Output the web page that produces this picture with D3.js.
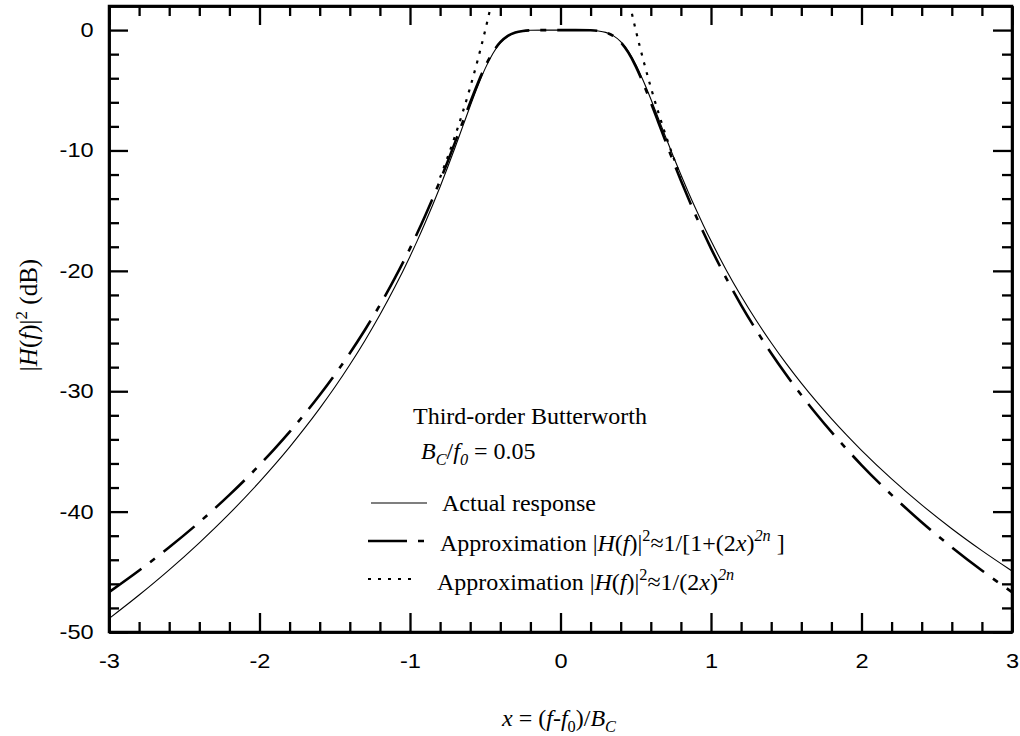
<!DOCTYPE html>
<html>
<head>
<meta charset="utf-8">
<script src="https://cdn.jsdelivr.net/npm/d3@7"></script>
<style>
  html, body { margin: 0; padding: 0; background: #fff; }
  svg { display: block; }
  .tick text { font-family: "Liberation Sans", Arial, sans-serif; font-size: 20px; fill: #000; }
  .serif { font-family: "Liberation Serif", "Times New Roman", serif; fill: #000; }
</style>
</head>
<body>
<svg id="chart" width="1020" height="736"></svg>
<script>
// ---- data ----
const xGrid = [-3, -2.8, -2.6, -2.4, -2.2, -2.0, -1.9, -1.8, -1.7, -1.6, -1.5, -1.4, -1.3, -1.2, -1.1, -1.0,
  -0.95, -0.9, -0.85, -0.8, -0.75, -0.7, -0.65, -0.6, -0.55, -0.5, -0.45, -0.4, -0.35, -0.3, -0.25, -0.2, -0.1, 0,
  0.1, 0.2, 0.25, 0.3, 0.35, 0.4, 0.45, 0.5, 0.55, 0.6, 0.65, 0.7, 0.75, 0.8, 0.85, 0.9, 0.95, 1.0,
  1.1, 1.2, 1.3, 1.4, 1.5, 1.6, 1.7, 1.8, 1.9, 2.0, 2.2, 2.4, 2.6, 2.8, 3.0];

const actualDb = [-48.89, -46.93, -44.84, -42.59, -40.17, -37.53, -36.12, -34.64, -33.07, -31.42, -29.67, -27.80, -25.80, -23.65, -21.33, -18.80,
  -17.45, -16.03, -14.55, -13.01, -11.40, -9.73, -8.02, -6.31, -4.67, -3.18, -1.96, -1.07, -0.51, -0.21, -0.07, -0.02, 0.00, 0.00,
  0.00, -0.02, -0.07, -0.19, -0.46, -0.96, -1.75, -2.85, -4.21, -5.72, -7.32, -8.92, -10.50, -12.02, -13.49, -14.89, -16.23, -17.51,
  -19.90, -22.09, -24.11, -25.97, -27.71, -29.33, -30.85, -32.28, -33.63, -34.91, -37.28, -39.44, -41.42, -43.24, -44.93];

const approxDb = [-46.69, -44.89, -42.96, -40.88, -38.61, -36.13, -34.79, -33.38, -31.89, -30.31, -28.63, -26.84, -24.91, -22.84, -20.58, -18.13,
  -16.82, -15.44, -14.00, -12.50, -10.93, -9.31, -7.65, -6.01, -4.43, -3.01, -1.85, -1.01, -0.48, -0.20, -0.07, -0.02, 0.00, 0.00,
  0.00, -0.02, -0.07, -0.20, -0.48, -1.01, -1.85, -3.01, -4.43, -6.01, -7.65, -9.31, -10.93, -12.50, -14.00, -15.44, -16.82, -18.13,
  -20.58, -22.84, -24.91, -26.84, -28.63, -30.31, -31.89, -33.38, -34.79, -36.13, -38.61, -40.88, -42.96, -44.89, -46.69];

const asympLeftX  = [-0.46, -0.47, -0.5, -0.55, -0.6, -0.7, -0.8];
const asympRightX = [0.46, 0.47, 0.5, 0.55, 0.6, 0.7, 0.8];
const asympDb     = [2.17, 1.61, 0.00, -2.48, -4.75, -8.77, -12.25];

const xMajorTicks = [-3, -2, -1, 0, 1, 2, 3];
const xMinorTicks = [-2.8,-2.6,-2.4,-2.2,-1.8,-1.6,-1.4,-1.2,-0.8,-0.6,-0.4,-0.2,0.2,0.4,0.6,0.8,1.2,1.4,1.6,1.8,2.2,2.4,2.6,2.8];
const yMajorTicks = [-50, -40, -30, -20, -10, 0];
const yMinorTicks = [-48,-46,-44,-42,-38,-36,-34,-32,-28,-26,-24,-22,-18,-16,-14,-12,-8,-6,-4,-2];

// ---- layout ----
const L = 109, R = 1012, T = 6, B = 632;
const svg = d3.select("#chart");
const x = d3.scaleLinear().domain([-3, 3]).range([L, R]);
const y = d3.scaleLinear().domain([-50, 2]).range([B, T]);

const defs = svg.append("defs");
defs.append("clipPath").attr("id", "clip").append("rect")
  .attr("x", L).attr("y", T).attr("width", R - L).attr("height", B - T);

// ---- curves ----
const g = svg.append("g").attr("clip-path", "url(#clip)");
const line = d3.line().x(d => x(d[0])).y(d => y(d[1])).curve(d3.curveMonotoneX);
const actualPts = xGrid.map((v, i) => [v, actualDb[i]]);
const approxPts = xGrid.map((v, i) => [v, approxDb[i]]);
const leftPts = asympLeftX.map((v, i) => [v, asympDb[i]]).reverse();
const rightPts = asympRightX.map((v, i) => [v, asympDb[i]]);

g.append("path").attr("d", line(actualPts)).attr("fill", "none").attr("stroke", "#000").attr("stroke-width", 1.1);
g.append("path").attr("d", line(approxPts)).attr("fill", "none").attr("stroke", "#000").attr("stroke-width", 2.6)
  .attr("stroke-dasharray", "40,11,6,11");
[leftPts, rightPts].forEach(p => {
  g.append("path").attr("d", line(p)).attr("fill", "none").attr("stroke", "#000").attr("stroke-width", 2.2)
    .attr("stroke-dasharray", "3,7");
});

// ---- axes (ticks inward) ----
function styleAxis(sel) {
  sel.selectAll("path.domain").attr("stroke", "#000").attr("stroke-width", 2.5);
  sel.selectAll(".tick line").attr("stroke", "#000").attr("stroke-width", 2.3);
}
const ax = (gen, tx, ty) => svg.append("g").attr("transform", `translate(${tx},${ty})`).call(gen).call(styleAxis);
const fmt = d => String(d);

const xAxisG = ax(d3.axisBottom(x).tickValues(xMajorTicks).tickSize(-19).tickSizeOuter(0).tickPadding(22).tickFormat(fmt), 0, B);
ax(d3.axisBottom(x).tickValues(xMinorTicks).tickSize(-10).tickSizeOuter(0).tickFormat(""), 0, B);
ax(d3.axisTop(x).tickValues(xMajorTicks).tickSize(-19).tickSizeOuter(0).tickFormat(""), 0, T);
ax(d3.axisTop(x).tickValues(xMinorTicks).tickSize(-10).tickSizeOuter(0).tickFormat(""), 0, T);
const yAxisG = ax(d3.axisLeft(y).tickValues(yMajorTicks).tickSize(-19).tickSizeOuter(0).tickPadding(13).tickFormat(fmt), L, 0);
ax(d3.axisLeft(y).tickValues(yMinorTicks).tickSize(-10).tickSizeOuter(0).tickFormat(""), L, 0);
ax(d3.axisRight(y).tickValues(yMajorTicks).tickSize(-19).tickSizeOuter(0).tickFormat(""), R, 0);
ax(d3.axisRight(y).tickValues(yMinorTicks).tickSize(-10).tickSizeOuter(0).tickFormat(""), R, 0);
svg.selectAll(".tick text").attr("fill", "#000").attr("transform", "scale(1.18,1)");
xAxisG.selectAll(".tick text").attr("transform", null).attr("textLength", null)
  .each(function () { d3.select(this).attr("transform", "scale(1.18,1)"); });
// frame
svg.append("rect").attr("x", L).attr("y", T).attr("width", R - L).attr("height", B - T)
  .attr("fill", "none").attr("stroke", "#000").attr("stroke-width", 2.5);

// ---- rich text helper ----
function rich(parent, xPos, yPos, parts, size, anchor) {
  const t = parent.append("text").attr("class", "serif").attr("x", xPos).attr("y", yPos)
    .attr("font-size", size).attr("text-anchor", anchor || "start");
  let shift = 0;
  parts.forEach(p => {
    const s = t.append("tspan").text(p.t);
    const target = p.sup ? -0.42 * size : p.sub ? 0.25 * size : 0;
    if (target !== shift) { s.attr("dy", target - shift); shift = target; }
    if (p.sup || p.sub) s.attr("font-size", size * 0.68);
    if (p.i) s.attr("font-style", "italic");
  });
  return t;
}

// axis titles
rich(svg, 559, 726, [{t: "x", i: 1}, {t: " = ("}, {t: "f", i: 1}, {t: "-"}, {t: "f", i: 1}, {t: "0", sub: 1}, {t: ")/"}, {t: "B", i: 1}, {t: "C", i: 1, sub: 1}], 24, "middle");
const yl = svg.append("g").attr("transform", "translate(37,315) rotate(-90)");
rich(yl, 0, 0, [{t: "|"}, {t: "H", i: 1}, {t: "("}, {t: "f", i: 1}, {t: ")|"}, {t: "2", sup: 1}, {t: " (dB)"}], 25, "middle");

// annotation
rich(svg, 413, 424, [{t: "Third-order Butterworth"}], 24);
rich(svg, 421, 459, [{t: "B", i: 1}, {t: "C", i: 1, sub: 1}, {t: "/"}, {t: "f", i: 1}, {t: "0", i: 1, sub: 1}, {t: " = 0.05"}], 24);

// legend
const lg = svg.append("g");
lg.append("line").attr("x1", 371).attr("x2", 427).attr("y1", 503).attr("y2", 503).attr("stroke", "#000").attr("stroke-width", 1.1);
lg.append("line").attr("x1", 368).attr("x2", 424).attr("y1", 541).attr("y2", 541).attr("stroke", "#000").attr("stroke-width", 2.6).attr("stroke-dasharray", "39,11,6,11");
lg.append("line").attr("x1", 368).attr("x2", 418).attr("y1", 579).attr("y2", 579).attr("stroke", "#000").attr("stroke-width", 2.2).attr("stroke-dasharray", "3,7");
rich(lg, 442, 511, [{t: "Actual response"}], 24);
rich(lg, 440, 551, [{t: "Approximation |"}, {t: "H", i: 1}, {t: "("}, {t: "f", i: 1}, {t: ")|"}, {t: "2", sup: 1}, {t: "≈1/[1+(2"}, {t: "x", i: 1}, {t: ")"}, {t: "2n", i: 1, sup: 1}, {t: " ]"}], 24);
rich(lg, 437, 590, [{t: "Approximation |"}, {t: "H", i: 1}, {t: "("}, {t: "f", i: 1}, {t: ")|"}, {t: "2", sup: 1}, {t: "≈1/(2"}, {t: "x", i: 1}, {t: ")"}, {t: "2n", i: 1, sup: 1}], 24);
</script>
</body>
</html>
